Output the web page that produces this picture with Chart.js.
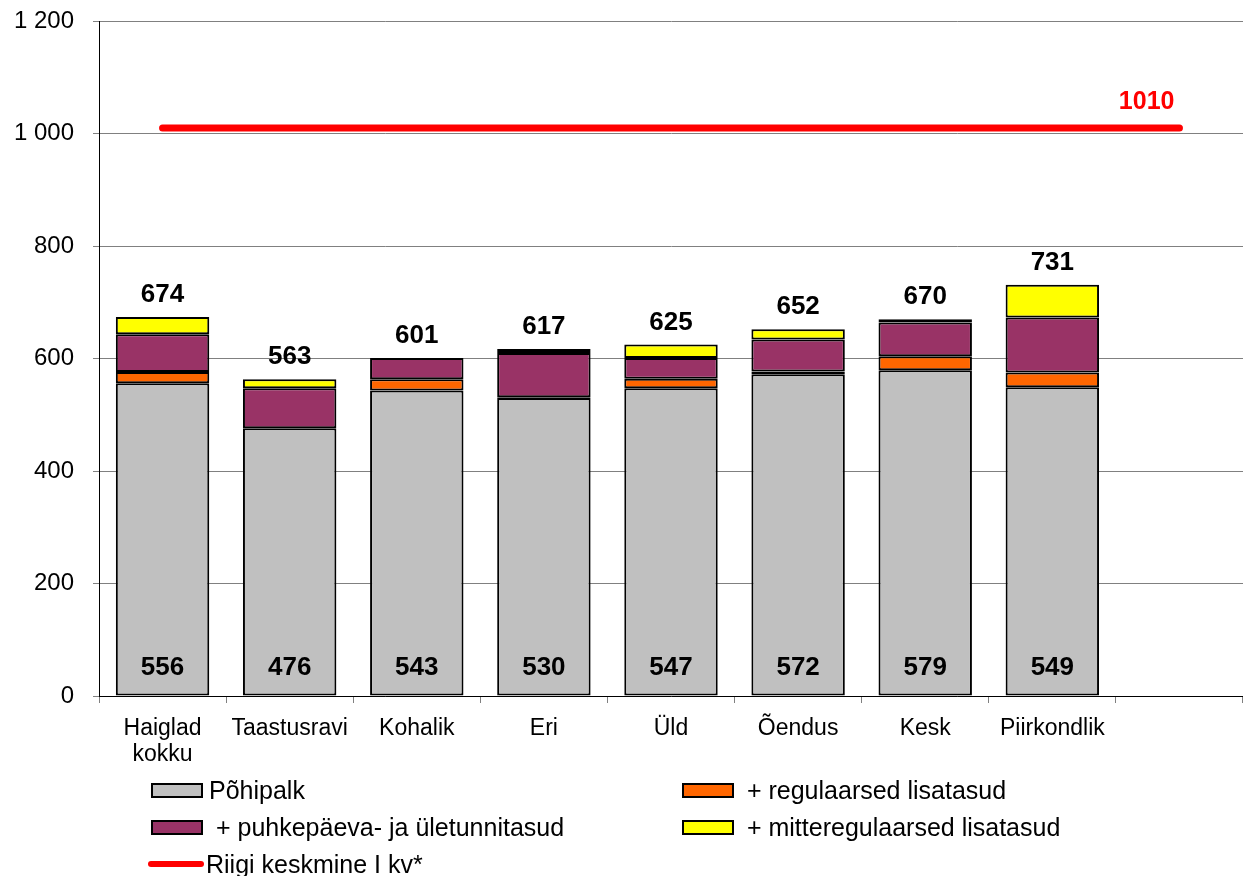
<!DOCTYPE html>
<html>
<head>
<meta charset="utf-8">
<script src="https://cdn.jsdelivr.net/npm/chart.js@4.4.1/dist/chart.umd.min.js"></script>
<style>
  html, body { margin: 0; padding: 0; background: #fff; }
  #wrap { position: relative; width: 1243px; height: 876px; }
  #chart { position: absolute; left: 0; top: 0; }
  #legend {
    position: absolute; left: 151px; top: 778px;
    display: grid; grid-template-columns: 531px 400px; grid-auto-rows: 37px;
    font-family: "Liberation Sans", Arial, sans-serif; font-size: 25px; color: #000;
  }
  .item { display: flex; align-items: center; height: 24px; white-space: pre; }
  .box { width: 48px; height: 11px; border: 2px solid #000; margin-right: 6px; }
  .line { width: 56px; height: 6px; border-radius: 3px; margin-left: -3px; margin-right: 2px; }
</style>
</head>
<body>
<div id="wrap">
  <canvas id="chart" width="1243" height="876"></canvas>
  <div id="legend"></div>
</div>
<script>
// Categories (last slot is empty, the average line runs into it)
const categories = [["Haiglad", "kokku"], "Taastusravi", "Kohalik", "Eri", "Üld", "Õendus", "Kesk", "Piirkondlik", ""];

// Stacked salary components
const basePay = [556, 476, 543, 530, 547, 572, 579, 549];
const regularExtra = [20, 0, 20, 1, 17, 5, 25, 26];
const overtimeExtra = [67, 71, 38, 79, 37, 57, 60, 98];
const irregularExtra = [31, 16, 0, 7, 24, 18, 6, 58];

// National average, I quarter
const nationalAvg = [1010, 1010, 1010, 1010, 1010, 1010, 1010, 1010, 1010];

const yTicks = [0, 200, 400, 600, 800, 1000, 1200];

const FONT = "'Liberation Sans', Arial, sans-serif";

const barStyle = {
  type: "bar",
  stack: "pay",
  borderColor: "#000",
  borderWidth: 2,
  borderSkipped: false,
  barPercentage: 0.735,
  categoryPercentage: 1,
};

// Numbers on top of bars, base values inside, and the average label
const valueLabels = {
  id: "valueLabels",
  afterDatasetsDraw(chart) {
    const ctx = chart.ctx;
    const y = chart.scales.y;
    const meta = chart.getDatasetMeta(0);
    ctx.save();
    ctx.font = "bold 26px " + FONT;
    ctx.textAlign = "center";
    ctx.textBaseline = "middle";
    ctx.fillStyle = "#000";
    basePay.forEach((v, i) => {
      const total = v + regularExtra[i] + overtimeExtra[i] + irregularExtra[i];
      const x = meta.data[i].x;
      ctx.fillText(String(total), x, y.getPixelForValue(total) - 22);
      ctx.fillText(String(v), x, y.getPixelForValue(0) - 28);
    });
    const lineMeta = chart.getDatasetMeta(4);
    const last = lineMeta.data[lineMeta.data.length - 1];
    ctx.fillStyle = "#ff0000";
    ctx.textAlign = "right";
    ctx.font = "bold 25px " + FONT;
    ctx.fillText(String(nationalAvg[nationalAvg.length - 1]), last.x - 5, last.y - 26);
    ctx.restore();
  },
};

const chart = new Chart(document.getElementById("chart"), {
  data: {
    labels: categories,
    datasets: [
      { ...barStyle, label: "Põhipalk", data: basePay, backgroundColor: "#c0c0c0" },
      { ...barStyle, label: " + regulaarsed lisatasud", data: regularExtra, backgroundColor: "#ff6600" },
      { ...barStyle, label: " + puhkepäeva- ja ületunnitasud", data: overtimeExtra, backgroundColor: "#993366" },
      { ...barStyle, label: " + mitteregulaarsed lisatasud", data: irregularExtra, backgroundColor: "#ffff00" },
      {
        type: "line",
        stack: "avg",
        label: "Riigi keskmine I kv*",
        data: nationalAvg,
        borderColor: "#ff0000",
        backgroundColor: "#ff0000",
        borderWidth: 7,
        borderCapStyle: "round",
        pointRadius: 0,
        tension: 0,
        order: -1,
      },
    ],
  },
  options: {
    responsive: false,
    animation: false,
    layout: { padding: { top: 21, right: 0, bottom: 0, left: 0 } },
    plugins: { legend: { display: false }, tooltip: { enabled: false } },
    scales: {
      x: {
        stacked: true,
        offset: true,
        grid: { offset: true, drawOnChartArea: false, tickLength: 7, color: "#808080" },
        border: { color: "#000", width: 1 },
        ticks: { color: "#000", font: { family: FONT, size: 23, lineHeight: 1.15 }, padding: 12, maxRotation: 0, autoSkip: false },
        afterFit(scale) {
          scale.height = 180;
          scale.paddingLeft = 0;
          scale.paddingRight = 0;
        },
      },
      y: {
        stacked: true,
        min: 0,
        max: 1200,
        afterBuildTicks(scale) { scale.ticks = yTicks.map((v) => ({ value: v })); },
        grid: { color: "#808080", lineWidth: 1, tickLength: 6, tickColor: "#808080" },
        border: { color: "#000", width: 1 },
        ticks: {
          color: "#000",
          font: { family: FONT, size: 24 },
          padding: 19,
          callback: (v) => String(v).replace(/\B(?=(\d{3})+(?!\d))/g, " "),
        },
        afterFit(scale) {
          scale.width = 99;
          scale.paddingTop = 0;
          scale.paddingBottom = 0;
        },
      },
    },
  },
  plugins: [valueLabels],
});

// HTML legend built from the datasets
const legend = document.getElementById("legend");
chart.data.datasets.forEach((ds) => {
  const item = document.createElement("div");
  item.className = "item";
  const mark = document.createElement("span");
  if (ds.type === "line") {
    mark.className = "line";
    mark.style.background = ds.borderColor;
  } else {
    mark.className = "box";
    mark.style.background = ds.backgroundColor;
  }
  item.appendChild(mark);
  item.appendChild(document.createTextNode(ds.label));
  legend.appendChild(item);
});
</script>
</body>
</html>
